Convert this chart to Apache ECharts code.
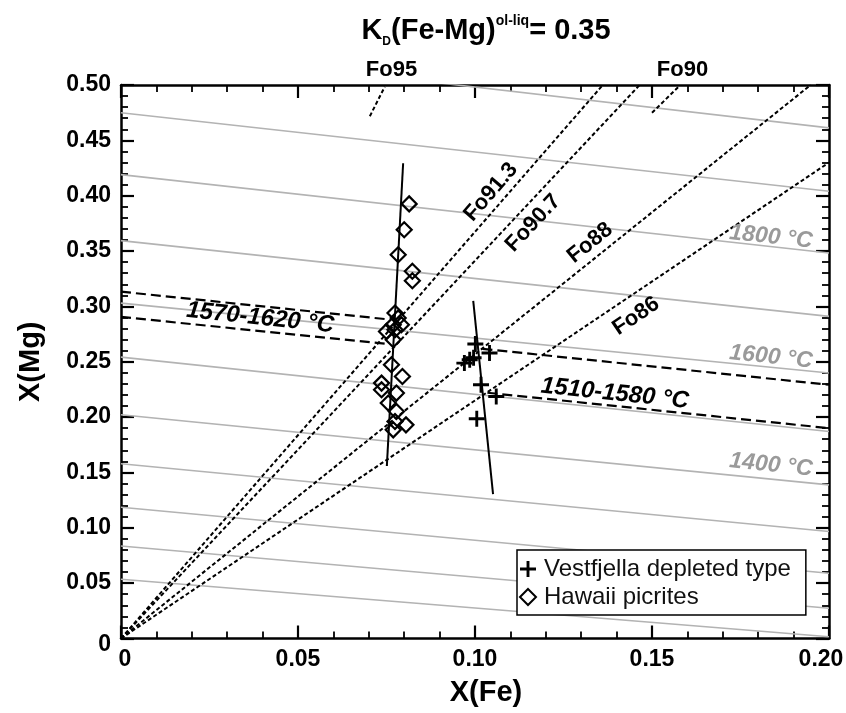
<!DOCTYPE html>
<html>
<head>
<meta charset="utf-8">
<script src="https://cdn.jsdelivr.net/npm/echarts@6/dist/echarts.min.js"></script>
<style>
  html, body { margin: 0; padding: 0; background: #fff; }
  #chart { width: 846px; height: 713px; }
</style>
</head>
<body>
<div id="chart"></div>
<script>
// olivine - liquid data, X(Fe) vs X(Mg)
var vestfjellaFe = [0.1001, 0.1041, 0.0985, 0.0970, 0.0996, 0.1017, 0.1060, 0.1005];
var vestfjellaMg = [0.2660, 0.2579, 0.2518, 0.2488, 0.2536, 0.2292, 0.2186, 0.1985];

var hawaiiFe = [0.0814, 0.0800, 0.0783, 0.0823, 0.0823, 0.0774, 0.0783, 0.0769, 0.0792, 0.0750, 0.0774,
                0.0769, 0.0764, 0.0795, 0.0736, 0.0736, 0.0778, 0.0755, 0.0778, 0.0774, 0.0805, 0.0769];
var hawaiiMg = [0.3926, 0.3693, 0.3467, 0.3317, 0.3232, 0.2940, 0.2895, 0.2835, 0.2835, 0.2774, 0.2789,
                0.2699, 0.2473, 0.2367, 0.2307, 0.2247, 0.2217, 0.2127, 0.2051, 0.1960, 0.1930, 0.1885];

// trend lines through each group [x, y] end points
var hawaiiTrend = [[0.0797, 0.4293], [0.0751, 0.1558]];
var vestfjellaTrend = [[0.0995, 0.3049], [0.1051, 0.1305]];

// isotherms (every 100 °C), X(Mg) at X(Fe)=0 and at X(Fe)=0.20
var isoTemps = [1000, 1100, 1200, 1300, 1400, 1500, 1600, 1700, 1800, 1900, 2000];
var isoMgAt0 = [0.0535, 0.0836, 0.1186, 0.1578, 0.2021, 0.2542, 0.3030, 0.3594, 0.4190, 0.4749, 0.5350];
var isoMgAt20 = [0.0016, 0.0273, 0.0590, 0.0966, 0.1388, 0.1870, 0.2398, 0.2910, 0.3483, 0.4040, 0.4613];

// temperature brackets
var range1570 = [[[0, 0.3133], [0.0745, 0.2886]], [[0, 0.2905], [0.0745, 0.2663]]];
var range1510 = [[[0.1021, 0.2617], [0.2, 0.2292]], [[0.1035, 0.2220], [0.2, 0.1900]]];

// olivine Fo lines from the origin
var foNames = ['Fo91.3', 'Fo90.7', 'Fo88', 'Fo86'];
var foEnds = [[0.1361, 0.5], [0.1465, 0.5], [0.1948, 0.5], [0.2, 0.43]];
var foShort = {
  Fo95: [[0.0703, 0.4718], [0.0745, 0.4984]],
  Fo90: [[0.1500, 0.4749], [0.1575, 0.4984]]
};

var FONT = 'Liberation Sans, Arial, sans-serif';
var chart = echarts.init(document.getElementById('chart'));

function lineSeries(data, style, z) {
  return {
    type: 'line', data: data, symbol: 'none', silent: true, z: z,
    lineStyle: style, animation: false
  };
}

var series = [];

isoTemps.forEach(function (t, i) {
  series.push(lineSeries([[0, isoMgAt0[i]], [0.2, isoMgAt20[i]]], { color: '#b3b3b3', width: 1.6 }, 1));
});

foNames.forEach(function (n, i) {
  series.push(lineSeries([[0, 0], foEnds[i]], { color: '#000', width: 2, type: [4, 2.5] }, 2));
});
Object.keys(foShort).forEach(function (k) {
  series.push(lineSeries(foShort[k], { color: '#000', width: 2, type: [4, 2.5] }, 2));
});

range1570.concat(range1510).forEach(function (seg) {
  series.push(lineSeries(seg, { color: '#000', width: 2.2, type: [10, 5] }, 2));
});

series.push(lineSeries(hawaiiTrend, { color: '#000', width: 2 }, 3));
series.push(lineSeries(vestfjellaTrend, { color: '#000', width: 2 }, 3));

var plusPath = 'path://M4.1,0H5.9V4.1H10V5.9H5.9V10H4.1V5.9H0V4.1H4.1Z';
var diamondPath = 'path://M5,0L10,5L5,10L0,5Z';

series.push({
  name: 'Vestfjella depleted type', type: 'scatter', z: 5,
  symbol: plusPath, symbolSize: 16,
  itemStyle: { color: '#000', opacity: 1 },
  data: vestfjellaFe.map(function (x, i) { return [x, vestfjellaMg[i]]; })
});
series.push({
  name: 'Hawaii picrites', type: 'scatter', z: 5,
  symbol: diamondPath, symbolSize: 15,
  itemStyle: { color: 'rgba(0,0,0,0)', borderColor: '#000', borderWidth: 2.2, opacity: 1 },
  data: hawaiiFe.map(function (x, i) { return [x, hawaiiMg[i]]; })
});

// text annotations
function textSeries(items, style) {
  return {
    type: 'scatter', silent: true, clip: false, z: 6, symbolSize: 1,
    itemStyle: { color: 'rgba(0,0,0,0)', opacity: 1 },
    label: Object.assign({ show: true, position: 'inside', formatter: '{b}', fontFamily: FONT, opacity: 1 }, style),
    data: items.map(function (d) {
      return { name: d[0], value: [d[1], d[2]], label: { rotate: d[3] } };
    })
  };
}

series.push(textSeries([
  ['Fo91.3', 0.1045, 0.4033, 49],
  ['Fo90.7', 0.1164, 0.3753, 47],
  ['Fo88', 0.1325, 0.3573, 39],
  ['Fo86', 0.1455, 0.2913, 34],
  ['Fo95', 0.0764, 0.5136, 0],
  ['Fo90', 0.1586, 0.5136, 0]
], { color: '#000', fontWeight: 'bold', fontSize: 22 }));

series.push(textSeries([
  ['1570-1620 °C', 0.0393, 0.2895, -6],
  ['1510-1580 °C', 0.1395, 0.2212, -6]
], { color: '#000', fontWeight: 'bold', fontStyle: 'italic', fontSize: 24 }));

series.push(textSeries([
  ['1800 °C', 0.1836, 0.3627, -6],
  ['1600 °C', 0.1836, 0.2543, -6],
  ['1400 °C', 0.1836, 0.1567, -6]
], { color: '#9a9a9a', fontWeight: 'bold', fontStyle: 'italic', fontSize: 23 }));

function xFmt(v) {
  if (v === 0) return '{l|0}';
  if (v >= 0.2) return '{r|' + v.toFixed(2) + '}';
  return v.toFixed(2);
}
function yFmt(v) {
  return v === 0 ? '{b|0}' : v.toFixed(2);
}

var tickFont = { fontFamily: FONT, fontWeight: 'bold', fontSize: 23, color: '#000' };

function axis(pos, max, show, fmt, extra) {
  return Object.assign({
    type: 'value', position: pos, min: 0, max: max, interval: 0.05,
    axisLine: { show: true, onZero: false, lineStyle: { color: '#000', width: 2.5 } },
    axisTick: { show: true, inside: true, length: 13, lineStyle: { color: '#000', width: 2.2 } },
    minorTick: { show: true, splitNumber: 5, length: 7, lineStyle: { color: '#000', width: 1.8 } },
    splitLine: { show: false },
    axisLabel: Object.assign({
      show: show, formatter: fmt, margin: 10,
      rich: {
        l: Object.assign({ padding: [0, 0, 0, 8] }, tickFont),
        r: Object.assign({ padding: [0, 16, 0, 0] }, tickFont),
        b: Object.assign({ padding: [12, 0, 0, 0] }, tickFont)
      }
    }, tickFont)
  }, extra);
}

chart.setOption({
  animation: false,
  backgroundColor: '#fff',
  grid: { left: 121, right: 17, top: 85, bottom: 74.5, containLabel: false, outerBoundsMode: 'none' },
  graphic: [{
    type: 'text', x: 486, y: 14,
    style: {
      text: '{k|K}{d|D}{k|(Fe-Mg)}{s|ol-liq}{k|= 0.35}',
      align: 'center', verticalAlign: 'top',
      rich: {
        k: { fontFamily: FONT, fontWeight: 'bold', fontSize: 29, lineHeight: 34, fill: '#000' },
        d: { fontFamily: FONT, fontWeight: 'bold', fontSize: 12, lineHeight: 20, verticalAlign: 'bottom', fill: '#000' },
        s: { fontFamily: FONT, fontWeight: 'bold', fontSize: 14, lineHeight: 31, verticalAlign: 'top', fill: '#000' }
      }
    }
  }],
  legend: {
    data: ['Vestfjella depleted type', 'Hawaii picrites'],
    orient: 'vertical', left: 517, top: 550,
    padding: [7, 15, 6, 2], itemGap: 4,
    itemWidth: 22, itemHeight: 16,
    backgroundColor: '#fff', borderColor: '#000', borderWidth: 1.5, borderRadius: 0,
    textStyle: { fontFamily: FONT, fontSize: 24, color: '#111', lineHeight: 23 }
  },
  xAxis: [
    axis('bottom', 0.2, true, xFmt, {
      name: 'X(Fe)', nameLocation: 'middle', nameGap: 40,
      nameTextStyle: { fontFamily: FONT, fontWeight: 'bold', fontSize: 29, color: '#000', padding: [0, 0, 0, 22] }
    }),
    axis('top', 0.2, false, xFmt, {})
  ],
  yAxis: [
    axis('left', 0.5, true, yFmt, {
      name: 'X(Mg)', nameLocation: 'middle', nameGap: 76,
      nameTextStyle: { fontFamily: FONT, fontWeight: 'bold', fontSize: 29, color: '#000' }
    }),
    axis('right', 0.5, false, yFmt, {})
  ],
  series: series
});
</script>
</body>
</html>
